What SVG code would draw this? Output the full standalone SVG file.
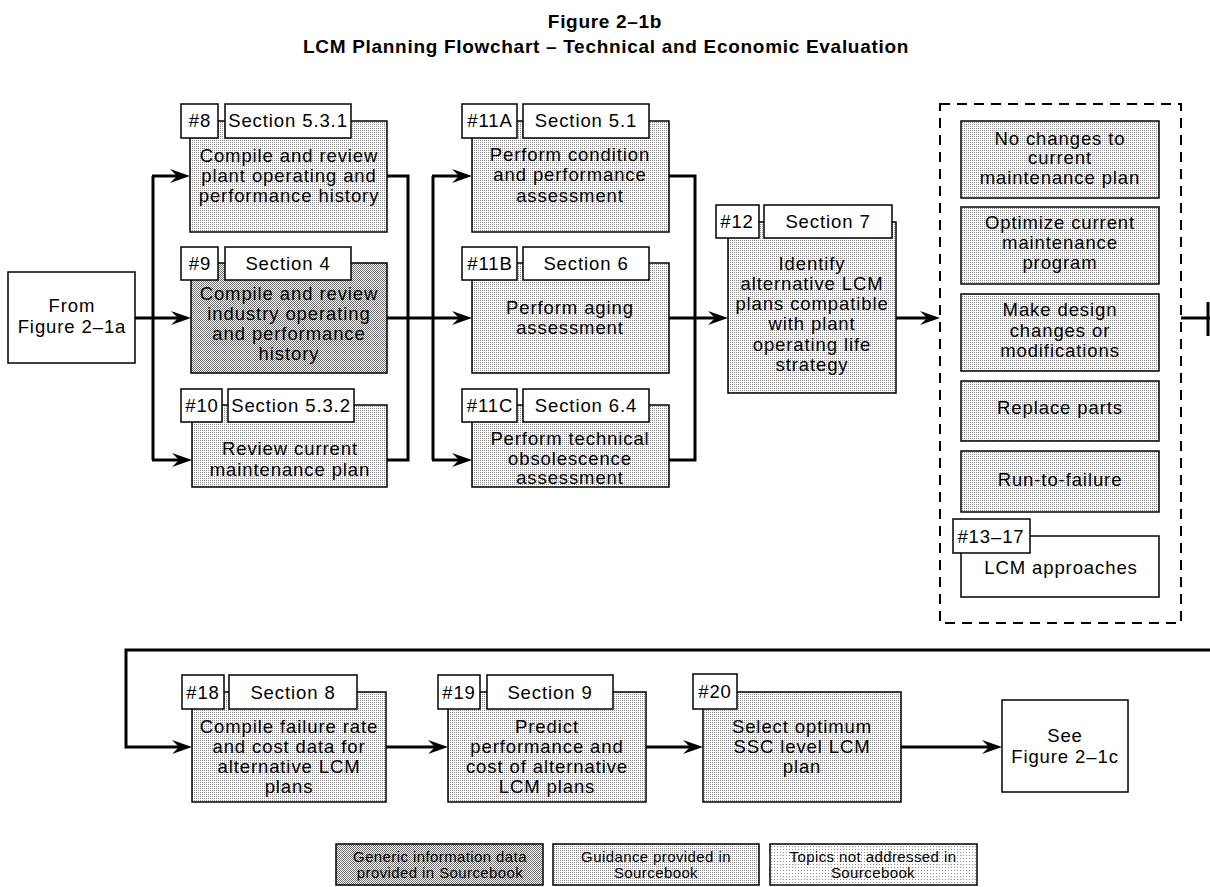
<svg xmlns="http://www.w3.org/2000/svg" width="1210" height="887" viewBox="0 0 1210 887">
<defs>
<pattern id="lt" width="2" height="2" patternUnits="userSpaceOnUse"><rect width="2" height="2" fill="#fff"/><rect width="1" height="1" fill="#8c8c8c"/></pattern>
<pattern id="dk" width="2" height="2" patternUnits="userSpaceOnUse"><rect width="2" height="2" fill="#fff"/><rect width="1" height="1" fill="#6e6e6e"/><rect x="1" y="1" width="1" height="1" fill="#6e6e6e"/></pattern>
<pattern id="vl" width="3" height="3" patternUnits="userSpaceOnUse"><rect width="3" height="3" fill="#fff"/><rect width="1" height="1" fill="#8c8c8c"/></pattern>
<marker id="ah" viewBox="-20 -7 20 14" refX="-8" refY="0" markerWidth="20" markerHeight="14" markerUnits="userSpaceOnUse" orient="auto"><path d="M0,0 L-20,-7 L-13,0 L-20,7 Z" fill="#000"/></marker>
</defs>
<style>
.b{stroke:#000;stroke-width:1.5}
.lt{fill:url(#lt)}
.dk{fill:url(#dk)}
.vl{fill:url(#vl)}
.wh{fill:#fff}
text{font-family:"Liberation Sans",Arial,sans-serif;font-size:18.5px;letter-spacing:0.9px;text-anchor:middle;fill:#000}
.ttl{font-weight:bold;font-size:19px;letter-spacing:0.7px}
.lg{font-size:15px;letter-spacing:0.4px}
.c{stroke:#000;stroke-width:3;fill:none}
.ca{stroke:#000;stroke-width:3;fill:none;marker-end:url(#ah)}
.dash{stroke:#000;stroke-width:2;fill:none;stroke-dasharray:10 7}
</style>
<rect width="1210" height="887" fill="#fff"/>
<g id="title">
<text class="ttl" x="605" y="28">Figure 2–1b</text>
<text class="ttl" x="606" y="53">LCM Planning Flowchart – Technical and Economic Evaluation</text>
</g>
<g id="connectors">
<path class="ca" d="M135,318 H183"/>
<path class="c" d="M153,176 V460"/>
<path class="ca" d="M152,176 H182"/>
<path class="ca" d="M152,460 H184"/>
<path class="c" d="M387,176 H408 V460 H387"/>
<path class="ca" d="M387,318 H464"/>
<path class="c" d="M433,176 V460"/>
<path class="ca" d="M432,176 H464"/>
<path class="ca" d="M432,460 H464"/>
<path class="c" d="M669,176 H695 V460 H669"/>
<path class="ca" d="M669,318 H720"/>
<path class="ca" d="M896,318 H932"/>
<path class="c" d="M1181,318 H1210"/>
<path class="c" d="M1208,302 V336"/>
<path class="ca" d="M1210,650 H126 V747 H184"/>
<path class="ca" d="M386,747 H440"/>
<path class="ca" d="M646,747 H695"/>
<path class="ca" d="M901,747 H994"/>
</g>
<g id="from">
<rect class="b wh" x="8" y="272" width="127" height="91"/>
<text x="72" y="312">From</text>
<text x="72" y="333">Figure 2–1a</text>
</g>
<g id="n8">
<rect class="b lt" x="190" y="121" width="197" height="111"/>
<rect class="b wh" x="181" y="104" width="37" height="34"/>
<rect class="b wh" x="225" y="104" width="126" height="34"/>
<text x="200" y="127">#8</text>
<text x="288" y="127">Section 5.3.1</text>
<text x="289" y="162">Compile and review</text>
<text x="289" y="182">plant operating and</text>
<text x="289" y="202">performance history</text>
</g>
<g id="n9">
<rect class="b dk" x="191" y="263" width="196" height="110"/>
<rect class="b wh" x="181" y="247" width="37" height="33"/>
<rect class="b wh" x="225" y="247" width="126" height="33"/>
<text x="200" y="270">#9</text>
<text x="288" y="270">Section 4</text>
<text x="289" y="300">Compile and review</text>
<text x="289" y="320">industry operating</text>
<text x="289" y="340">and performance</text>
<text x="289" y="360">history</text>
</g>
<g id="n10">
<rect class="b lt" x="192" y="405" width="195" height="82"/>
<rect class="b wh" x="181" y="389" width="41" height="33"/>
<rect class="b wh" x="228" y="389" width="126" height="33"/>
<text x="202" y="412">#10</text>
<text x="291" y="412">Section 5.3.2</text>
<text x="290" y="455">Review current</text>
<text x="290" y="476">maintenance plan</text>
</g>
<g id="n11a">
<rect class="b lt" x="472" y="121" width="197" height="111"/>
<rect class="b wh" x="462" y="104" width="55" height="34"/>
<rect class="b wh" x="523" y="104" width="126" height="34"/>
<text x="490" y="127">#11A</text>
<text x="586" y="127">Section 5.1</text>
<text x="570" y="161">Perform condition</text>
<text x="570" y="181">and performance</text>
<text x="570" y="202">assessment</text>
</g>
<g id="n11b">
<rect class="b lt" x="472" y="263" width="197" height="110"/>
<rect class="b wh" x="462" y="247" width="55" height="33"/>
<rect class="b wh" x="523" y="247" width="126" height="33"/>
<text x="490" y="270">#11B</text>
<text x="586" y="270">Section 6</text>
<text x="570" y="314">Perform aging</text>
<text x="570" y="334">assessment</text>
</g>
<g id="n11c">
<rect class="b lt" x="472" y="405" width="197" height="82"/>
<rect class="b wh" x="462" y="389" width="55" height="33"/>
<rect class="b wh" x="523" y="389" width="126" height="33"/>
<text x="490" y="412">#11C</text>
<text x="586" y="412">Section 6.4</text>
<text x="570" y="445">Perform technical</text>
<text x="570" y="465">obsolescence</text>
<text x="570" y="484">assessment</text>
</g>
<g id="n12">
<rect class="b lt" x="728" y="222" width="168" height="171"/>
<rect class="b wh" x="716" y="205" width="43" height="33"/>
<rect class="b wh" x="764" y="205" width="128" height="33"/>
<text x="737" y="228">#12</text>
<text x="828" y="228">Section 7</text>
<text x="812" y="270">Identify</text>
<text x="812" y="290">alternative LCM</text>
<text x="812" y="310">plans compatible</text>
<text x="812" y="330">with plant</text>
<text x="812" y="351">operating life</text>
<text x="812" y="371">strategy</text>
</g>
<g id="n13-17">
<rect class="dash" x="940" y="104" width="241" height="519"/>
<rect class="b lt" x="961" y="121" width="198" height="77"/>
<text x="1060" y="145">No changes to</text>
<text x="1060" y="164">current</text>
<text x="1060" y="184">maintenance plan</text>
<rect class="b lt" x="961" y="207" width="198" height="77"/>
<text x="1060" y="229">Optimize current</text>
<text x="1060" y="249">maintenance</text>
<text x="1060" y="269">program</text>
<rect class="b lt" x="961" y="294" width="198" height="77"/>
<text x="1060" y="316">Make design</text>
<text x="1060" y="337">changes or</text>
<text x="1060" y="357">modifications</text>
<rect class="b lt" x="961" y="381" width="198" height="60"/>
<text x="1060" y="414">Replace parts</text>
<rect class="b lt" x="961" y="451" width="198" height="61"/>
<text x="1060" y="486">Run-to-failure</text>
<rect class="b wh" x="961" y="536" width="198" height="61"/>
<rect class="b wh" x="953" y="519" width="77" height="34"/>
<text x="991" y="543">#13–17</text>
<text x="1061" y="574">LCM approaches</text>
</g>
<g id="n18">
<rect class="b lt" x="192" y="692" width="194" height="110"/>
<rect class="b wh" x="182" y="675" width="42" height="34"/>
<rect class="b wh" x="229" y="675" width="128" height="34"/>
<text x="203" y="699">#18</text>
<text x="293" y="699">Section 8</text>
<text x="289" y="733">Compile failure rate</text>
<text x="289" y="753">and cost data for</text>
<text x="289" y="773">alternative LCM</text>
<text x="289" y="793">plans</text>
</g>
<g id="n19">
<rect class="b lt" x="448" y="692" width="198" height="110"/>
<rect class="b wh" x="438" y="675" width="42" height="34"/>
<rect class="b wh" x="487" y="675" width="126" height="34"/>
<text x="459" y="699">#19</text>
<text x="550" y="699">Section 9</text>
<text x="547" y="733">Predict</text>
<text x="547" y="753">performance and</text>
<text x="547" y="773">cost of alternative</text>
<text x="547" y="793">LCM plans</text>
</g>
<g id="n20">
<rect class="b lt" x="703" y="692" width="198" height="110"/>
<rect class="b wh" x="693" y="674" width="44" height="35"/>
<text x="715" y="698">#20</text>
<text x="802" y="733">Select optimum</text>
<text x="802" y="753">SSC level LCM</text>
<text x="802" y="773">plan</text>
</g>
<g id="see">
<rect class="b wh" x="1002" y="700" width="126" height="92"/>
<text x="1065" y="742">See</text>
<text x="1065" y="763">Figure 2–1c</text>
</g>
<g id="legend">
<rect class="b dk" x="336" y="844" width="207" height="41"/>
<text class="lg" x="440" y="862">Generic information data</text>
<text class="lg" x="440" y="878">provided in Sourcebook</text>
<rect class="b lt" x="553" y="844" width="206" height="41"/>
<text class="lg" x="656" y="862">Guidance provided in</text>
<text class="lg" x="656" y="878">Sourcebook</text>
<rect class="b vl" x="770" y="844" width="207" height="41"/>
<text class="lg" x="873" y="862">Topics not addressed in</text>
<text class="lg" x="873" y="878">Sourcebook</text>
</g>
</svg>
